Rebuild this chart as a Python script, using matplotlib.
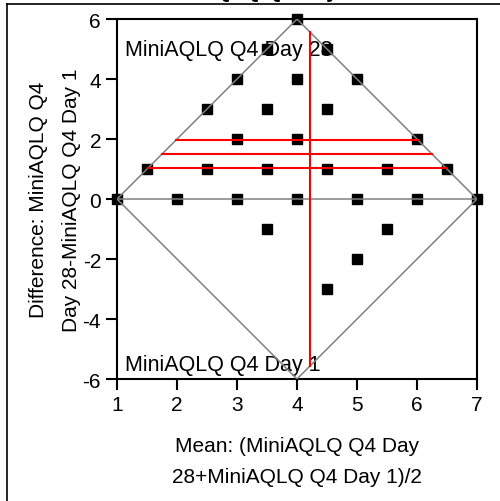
import matplotlib
matplotlib.use("Agg")
import matplotlib.pyplot as plt
from matplotlib.lines import Line2D

plt.rcParams['font.family'] = ['Liberation Sans', 'DejaVu Sans']
plt.rcParams['axes.unicode_minus'] = False

# score range of the questionnaire item
lo, hi = 1, 7

# mean of the two visits and the difference Day 28 - Day 1
mean_vals = [4, 3.5, 4.5, 3, 4, 5, 2.5, 3.5, 4.5, 3, 4, 6,
             1.5, 2.5, 3.5, 4.5, 5.5, 6.5,
             1, 2, 3, 4, 5, 6, 7,
             3.5, 5.5, 5, 4.5]
diff_vals = [6, 5, 5, 4, 4, 4, 3, 3, 3, 2, 2, 2,
             1, 1, 1, 1, 1, 1,
             0, 0, 0, 0, 0, 0, 0,
             -1, -1, -2, -3]

# summary lines
mean_of_means = 4.22
diff_lines = [1.04, 1.51, 1.98]   # lower CI, mean diff, upper CI

fig = plt.figure(figsize=(5, 5.02), dpi=100)
ax = fig.add_axes([0.234, 0.243, 0.72, 0.717])

mid = (lo + hi) / 2
span = hi - lo
# feasible region diamond + zero line
ax.plot([lo, mid, hi, mid, lo], [0, span, 0, -span, 0], color='#808080', lw=1.1, zorder=3)
ax.plot([lo, hi], [0, 0], color='#808080', lw=1.1, zorder=3)

ax.plot(mean_vals, diff_vals, 's', color='black', ms=7.2, clip_on=False, zorder=2)

# red lines clipped to the diamond
h = span - 2 * abs(mean_of_means - mid)
ax.plot([mean_of_means, mean_of_means], [-h, h], color='red', lw=1.5, zorder=4)
for d in diff_lines:
    ax.plot([lo + abs(d) / 2, hi - abs(d) / 2], [d, d], color='red', lw=1.5, zorder=4)

ax.text(1.13, 5.0, 'MiniAQLQ Q4 Day 28', fontsize=15.5, va='center', ha='left', zorder=1)
ax.text(1.13, -5.5, 'MiniAQLQ Q4 Day 1', fontsize=15.5, va='center', ha='left', zorder=1)

ax.set_xlim(lo, hi)
ax.set_ylim(-6, 6)
ax.set_xticks(range(1, 8))
ax.set_yticks(range(-6, 7, 2))
ax.tick_params(direction='out', length=8, width=1.5, labelsize=15, pad=3.5)
for s in ax.spines.values():
    s.set_linewidth(1.5)

ax.set_xlabel('Mean: (MiniAQLQ Q4 Day\n28+MiniAQLQ Q4 Day 1)/2', fontsize=15,
              linespacing=1.8, labelpad=16)
ax.set_ylabel('Difference: MiniAQLQ Q4\nDay 28-MiniAQLQ Q4 Day 1', fontsize=15,
              linespacing=1.95, labelpad=1)

# cut-off title at the top edge
fig.text(0.676, 1.004, 'MiniAQLQ Q4 Day', fontsize=15, fontweight='bold',
         ha='right', va='baseline')

# outer frame lines (top and left)
fig.add_artist(Line2D([0.014, 1.0], [1 - 5 / 502, 1 - 5 / 502], color='black', lw=1.2,
                      transform=fig.transFigure))
fig.add_artist(Line2D([0.014, 0.014], [0, 1 - 5 / 502], color='black', lw=1.2,
                      transform=fig.transFigure))

fig.savefig('out.png', dpi=100)
